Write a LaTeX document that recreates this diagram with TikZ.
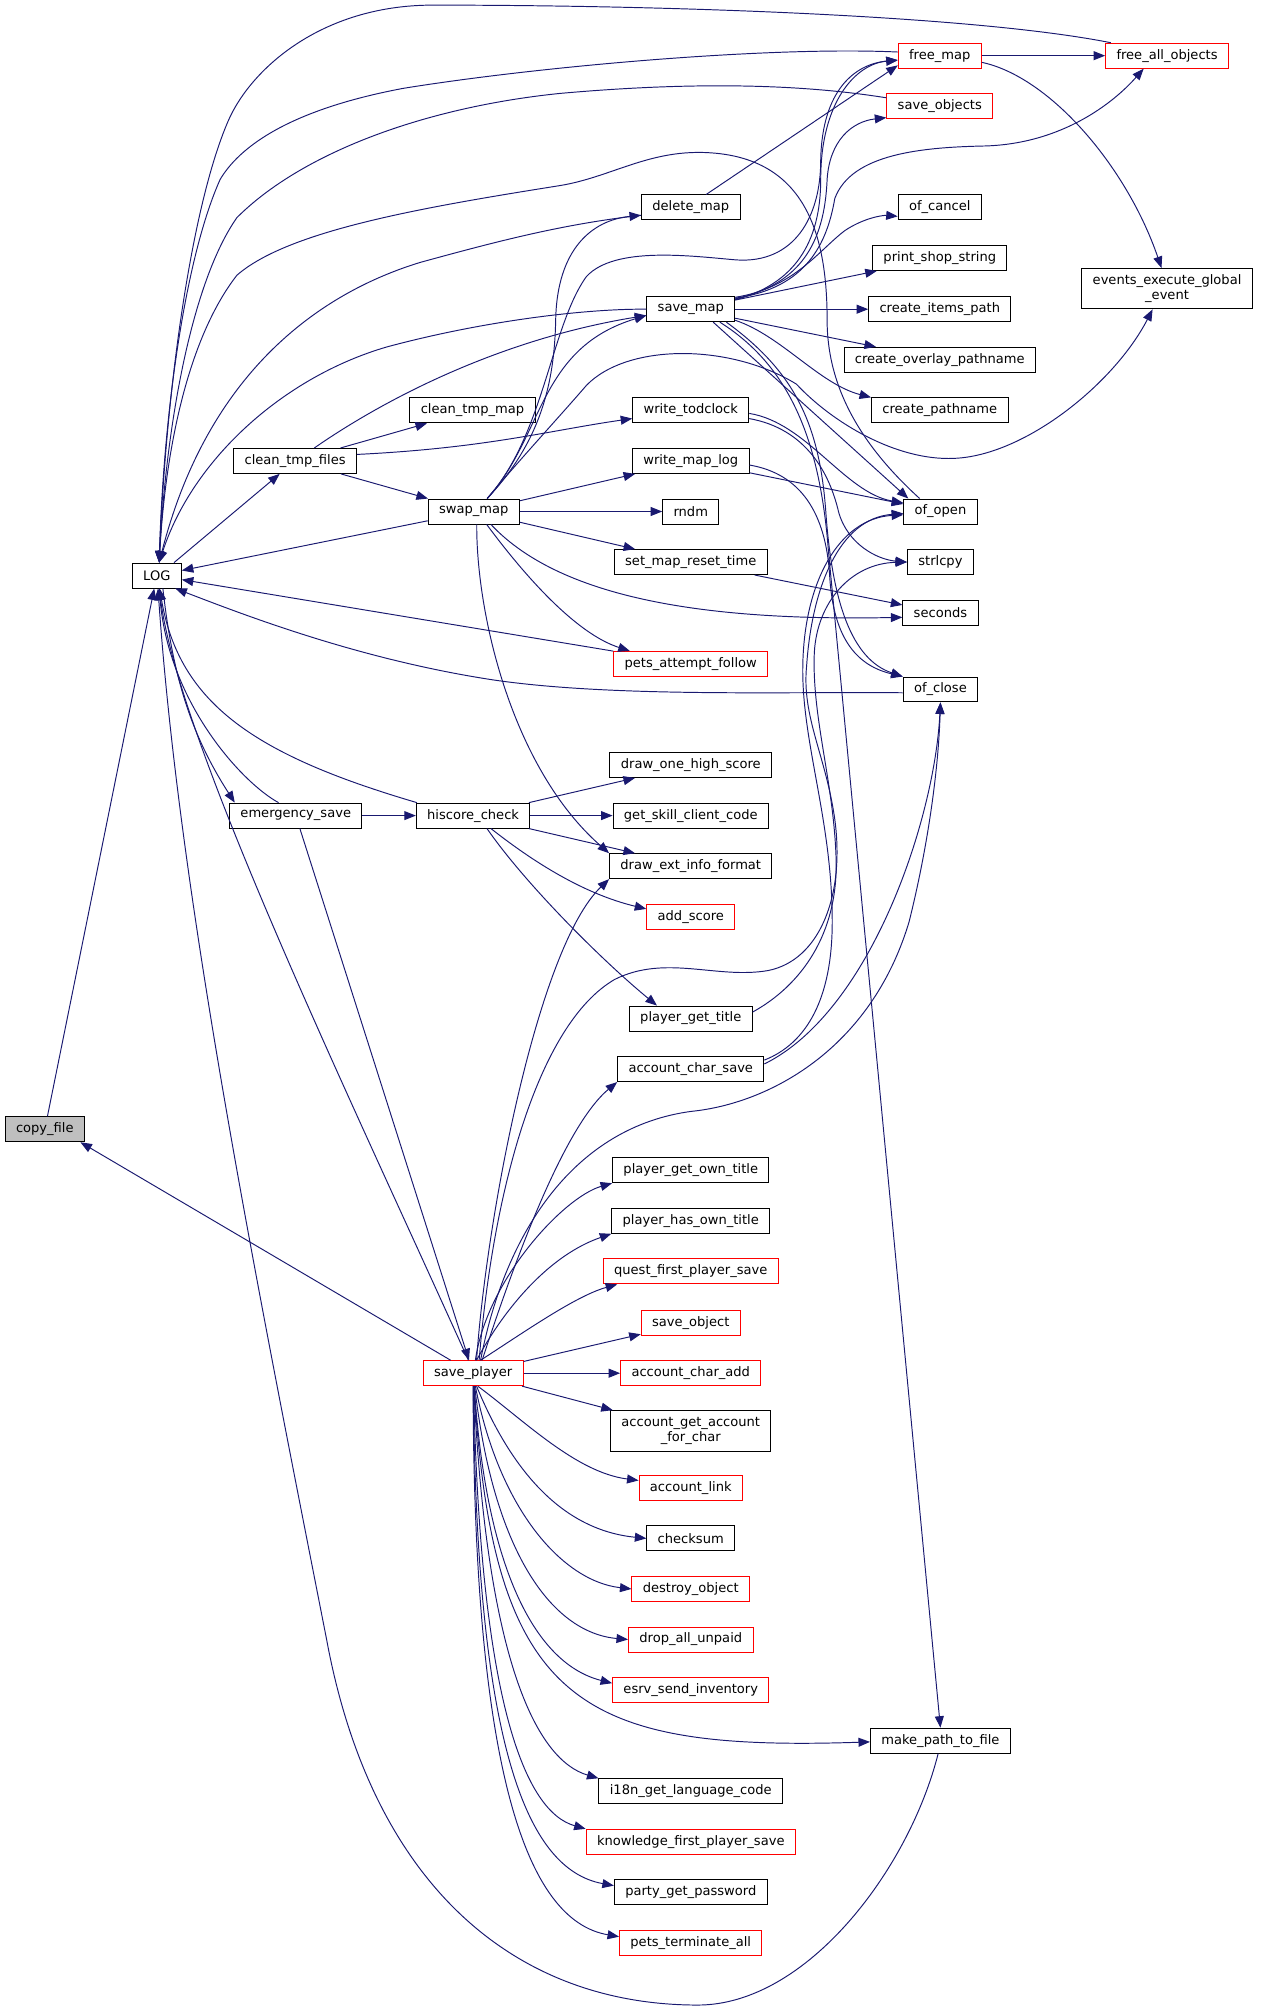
\documentclass[tikz,border=0pt]{standalone}
\usepackage{fontspec}
\setmainfont{DejaVu Sans}
\usetikzlibrary{arrows.meta}
\definecolor{gvblue}{HTML}{191970}
\definecolor{gvred}{HTML}{FF0000}
\definecolor{gvgray}{HTML}{BFBFBF}

\begin{document}
\begin{tikzpicture}[x=1pt, y=-1pt,
    every node/.style={rectangle, draw=black, line width=0.75pt, fill=white, minimum height=19.5pt, inner xsep=8.5pt, inner ysep=0pt, font=\fontsize{10.2}{11.5}\selectfont},
    hot/.style={draw=gvred},
    two/.style={minimum height=31.5pt, align=center},
    call/.style={draw=gvblue, line width=0.75pt, -{Triangle[length=9pt,width=7pt]}}]
                \fill[white] (0,0) rectangle (985,1573);
                \useasboundingbox (0,0) rectangle (985,1573);
                % left part
                \node[fill=gvgray] (copyfile) at (35,882) {copy\_file};
                \node (log) at (122.5,449.5) {LOG};
                \node (cleanfiles) at (230.5,360) {clean\_tmp\_files};
                \node (emergency) at (231,637) {emergency\_save};
                \node (cleanmap) at (369,320.5) {clean\_tmp\_map};
                \node (swapmap) at (370,399.5) {swap\_map};
                \node (hiscore) at (369.5,637) {hiscore\_check};
                \node[hot] (saveplayer) at (369.5,1072.5) {save\_player};
                % middle column
                \node (deletemap) at (539.5,162) {delete\_map};
                \node (savemap) at (539.5,241.5) {save\_map};
                \node (todclock) at (539.5,320.5) {write\_todclock};
                \node (maplog) at (539.5,360) {write\_map\_log};
                \node (rndm) at (539.5,399.5) {rndm};
                \node (resettime) at (539.5,439) {set\_map\_reset\_time};
                \node[hot] (petsfollow) at (539.5,518.5) {pets\_attempt\_follow};
                \node (onescore) at (539.5,597.5) {draw\_one\_high\_score};
                \node (skillcode) at (539.5,637) {get\_skill\_client\_code};
                \node (extinfo) at (539.5,676.5) {draw\_ext\_info\_format};
                \node[hot] (addscore) at (539.5,716) {add\_score};
                \node (gettitle) at (539.5,795.5) {player\_get\_title};
                \node (charsave) at (539.5,835) {account\_char\_save};
                \node (owntitle) at (539.5,914) {player\_get\_own\_title};
                \node (hastitle) at (539.5,953.5) {player\_has\_own\_title};
                \node[hot] (questsave) at (539.5,993) {quest\_first\_player\_save};
                \node[hot] (saveobject) at (539.5,1033) {save\_object};
                \node[hot] (charadd) at (539.5,1072.5) {account\_char\_add};
                \node[two] (accountfor) at (539.5,1117.5) {account\_get\_account\\\_for\_char};
                \node[hot] (accountlink) at (539.5,1162) {account\_link};
                \node (checksum) at (539.5,1201.5) {checksum};
                \node[hot] (destroy) at (539.5,1241) {destroy\_object};
                \node[hot] (dropunpaid) at (539.5,1280.5) {drop\_all\_unpaid};
                \node[hot] (inventory) at (539.5,1320) {esrv\_send\_inventory};
                \node (language) at (539.5,1399) {i18n\_get\_language\_code};
                \node[hot] (knowledge) at (539.5,1438.5) {knowledge\_first\_player\_save};
                \node (password) at (539.5,1478) {party\_get\_password};
                \node[hot] (petsterminate) at (539.5,1517.5) {pets\_terminate\_all};
                % right columns
                \node[hot] (freemap) at (734,43.5) {free\_map};
                \node[hot] (saveobjects) at (734,83) {save\_objects};
                \node (ofcancel) at (734,162) {of\_cancel};
                \node (shopstring) at (734,201.5) {print\_shop\_string};
                \node (itemspath) at (734,241.5) {create\_items\_path};
                \node (overlayname) at (734,281) {create\_overlay\_pathname};
                \node (pathname) at (734,320.5) {create\_pathname};
                \node (ofopen) at (734.5,399.5) {of\_open};
                \node (strlcpy) at (734.5,439) {strlcpy};
                \node (seconds) at (734.5,478.5) {seconds};
                \node (ofclose) at (734.5,538.5) {of\_close};
                \node (makepath) at (734.5,1359.5) {make\_path\_to\_file};
                \node[hot] (freeall) at (911.5,43.5) {free\_all\_objects};
                \node[two] (globalevent) at (911.5,225.5) {events\_execute\_global\\\_event};

                % copy_file and LOG
                \draw[call] (copyfile) -- (log);
                \draw[call] (log.37) -- (cleanfiles.-140);
                \draw[call] (log.-65) .. controls (135,530) and (150,575) .. (emergency.168);
                % clean_tmp_files
                \draw[call] (cleanfiles) -- (cleanmap);
                \draw[call] (cleanfiles) -- (swapmap);
                \draw[call] (cleanfiles.6) .. controls (380,350) and (430,336) .. (todclock.188);
                \draw[call] (cleanfiles.34) .. controls (300,312) and (390,265) .. (savemap.188);
                % swap_map
                \draw[call] (swapmap) -- (log);
                \draw[call] (swapmap.44) .. controls (422,345) and (433,300) .. (434,250) .. controls (435,195) and (462,172) .. (deletemap.189);
                \draw[call] (swapmap.44) .. controls (425,340) and (430,255) .. (458,216) .. controls (480,192) and (540,200) .. (575,203) .. controls (620,206) and (641,170) .. (641,125) .. controls (642,70) and (668,50) .. (freemap.-174);
                \draw[call] (swapmap.44) .. controls (425,340) and (420,272) .. (savemap.188);
                \draw[call] (swapmap.44) .. controls (405,360) and (440,322) .. (458,301) .. controls (490,268) and (570,268) .. (622,300) .. controls (650,330) and (700,360) .. (745,358) .. controls (800,356) and (870,300) .. (globalevent.-125);
                \draw[call] (swapmap) -- (maplog);
                \draw[call] (swapmap) -- (rndm);
                \draw[call] (swapmap) -- (resettime);
                \draw[call] (swapmap.-37) .. controls (440,470) and (560,485) .. (seconds.-173);
                \draw[call] (swapmap.-45) .. controls (410,450) and (450,495) .. (petsfollow.168);
                \draw[call] (swapmap.-77) .. controls (372,480) and (400,600) .. (extinfo.north west);
                % save_map
                \draw[call] (savemap.west) .. controls (460,241) and (380,250) .. (302,271) .. controls (220,295) and (150,360) .. (log.80);
                \draw[call] (savemap.12) .. controls (620,222) and (641,190) .. (641,140) .. controls (641,80) and (668,50) .. (freemap.-174);
                \draw[call] (savemap.13) .. controls (625,222) and (644,190) .. (646,140) .. controls (648,110) and (665,95) .. (saveobjects.-168);
                \draw[call] (savemap.14) .. controls (630,225) and (646,190) .. (652,155) .. controls (665,120) and (720,115) .. (770,114) .. controls (830,112) and (870,80) .. (freeall.-151);
                \draw[call] (savemap.15) .. controls (620,225) and (640,195) .. (660,180) .. controls (675,170) and (690,168) .. (ofcancel.-168);
                \draw[call] (savemap) -- (shopstring);
                \draw[call] (savemap) -- (itemspath);
                \draw[call] (savemap) -- (overlayname);
                \draw[call] (savemap.-14) .. controls (610,262) and (640,300) .. (pathname.north west);
                \draw[call] (savemap.-30) -- (ofopen.158);
                \draw[call] (savemap.-20) .. controls (620,290) and (640,330) .. (645,400) .. controls (650,470) and (665,515) .. (ofclose.north west);
                \draw[call] (savemap.-24) .. controls (615,285) and (640,340) .. (647,430) -- (makepath.north);
                % delete_map, free_map, free_all_objects, save_objects
                \draw[call] (deletemap.40) -- (freemap.-167);
                \draw[call] (deletemap.189) .. controls (440,175) and (390,188) .. (328,205) .. controls (240,232) and (160,300) .. (log.80);
                \draw[call] (freemap) -- (freeall);
                \draw[call] (freemap.175) .. controls (600,36) and (420,52) .. (315,69) .. controls (235,84) and (190,110) .. (172,140) .. controls (145,200) and (128,320) .. (log.80);
                \draw[call] (freemap.-9) .. controls (820,60) and (880,130) .. (globalevent.105);
                \draw[call] (freeall.167) .. controls (760,12) and (520,4) .. (338,4) .. controls (250,4) and (195,55) .. (178,95) .. controls (150,160) and (130,300) .. (log.80);
                \draw[call] (saveobjects.171) .. controls (640,68) and (560,62) .. (437,73) .. controls (330,84) and (235,120) .. (185,170) .. controls (150,220) and (130,330) .. (log.80);
                % write_todclock, write_map_log
                \draw[call] (todclock.-3) .. controls (630,330) and (660,385) .. (ofopen.167);
                \draw[call] (todclock.-8) .. controls (630,335) and (648,370) .. (655,400) .. controls (662,425) and (685,437) .. (strlcpy.west);
                \draw[call] (maplog) -- (ofopen);
                \draw[call] (maplog.-4) .. controls (625,370) and (645,400) .. (648,450) .. controls (651,500) and (670,520) .. (ofclose.north west);
                % of_open, of_close, pets_attempt_follow, set_map_reset_time
                \draw[call] (ofopen.148) .. controls (675,350) and (646,305) .. (646,250) .. controls (646,185) and (630,128) .. (562,120) .. controls (510,114) and (480,138) .. (437,145) .. controls (330,162) and (225,180) .. (185,215) .. controls (150,260) and (130,340) .. (log.80);
                \draw[call] (ofclose.185) .. controls (620,540) and (480,545) .. (385,531) .. controls (280,515) and (190,480) .. (log.-35);
                \draw[call] (petsfollow) -- (log);
                \draw[call] (resettime) -- (seconds);
                % emergency_save, hiscore_check
                \draw[call] (emergency.143) .. controls (190,612) and (132,550) .. (log.-80);
                \draw[call] (emergency) -- (hiscore);
                \draw[call] (emergency) -- (saveplayer);
                \draw[call] (hiscore.167) .. controls (200,590) and (140,550) .. (log.-78);
                \draw[call] (hiscore) -- (onescore);
                \draw[call] (hiscore) -- (skillcode);
                \draw[call] (hiscore) -- (extinfo);
                \draw[call] (hiscore.-36) .. controls (415,672) and (455,698) .. (addscore.170);
                \draw[call] (hiscore.-43) .. controls (410,690) and (470,750) .. (gettitle.159);
                \draw[call] (gettitle.6) .. controls (625,770) and (655,730) .. (653,670) .. controls (651,610) and (634,560) .. (636,510) .. controls (638,470) and (665,440) .. (strlcpy.west);
                % account_char_save
                \draw[call] (charsave.7) .. controls (630,815) and (650,780) .. (650,720) .. controls (650,640) and (626,580) .. (627,520) .. controls (628,455) and (655,405) .. (ofopen.-175);
                \draw[call] (charsave.4) .. controls (680,790) and (730,640) .. (ofclose.south);
                % save_player
                \draw[call] (saveplayer.150) -- (copyfile.-20);
                \draw[call] (saveplayer.110) .. controls (270,850) and (140,580) .. (log.-80);
                \draw[call] (saveplayer.75) .. controls (380,950) and (420,740) .. (extinfo.south west);
                \draw[call] (saveplayer.65) .. controls (385,930) and (420,800) .. (480,765) .. controls (520,745) and (560,765) .. (600,758) .. controls (640,750) and (660,700) .. (652,640) .. controls (645,590) and (626,560) .. (630,520) .. controls (634,460) and (655,405) .. (ofopen.-177);
                \draw[call] (saveplayer.60) .. controls (395,960) and (450,880) .. (540,868) .. controls (600,862) and (680,820) .. (710,720) .. controls (725,660) and (733,600) .. (ofclose.south);
                \draw[call] (saveplayer.55) .. controls (400,990) and (440,880) .. (charsave.south west);
                \draw[call] (saveplayer.80) .. controls (380,1000) and (440,935) .. (owntitle.south west);
                \draw[call] (saveplayer.75) .. controls (395,1020) and (430,980) .. (hastitle.south west);
                \draw[call] (saveplayer.60) .. controls (410,1040) and (450,1012) .. (questsave.-170);
                \draw[call] (saveplayer) -- (saveobject);
                \draw[call] (saveplayer) -- (charadd);
                \draw[call] (saveplayer) -- (accountfor);
                \draw[call] (saveplayer.-70) .. controls (410,1110) and (450,1150) .. (accountlink.172);
                \draw[call] (saveplayer.-75) .. controls (400,1150) and (440,1195) .. (checksum.west);
                \draw[call] (saveplayer.-80) .. controls (390,1180) and (440,1235) .. (destroy.west);
                \draw[call] (saveplayer.-83) .. controls (385,1210) and (430,1275) .. (dropunpaid.west);
                \draw[call] (saveplayer.-85) .. controls (380,1230) and (420,1300) .. (inventory.175);
                \draw[call] (saveplayer.-86) .. controls (385,1330) and (450,1368) .. (makepath.181);
                \draw[call] (saveplayer.-87) .. controls (380,1300) and (420,1375) .. (language.north west);
                \draw[call] (saveplayer.-88) .. controls (375,1330) and (410,1415) .. (knowledge.north west);
                \draw[call] (saveplayer.-89) .. controls (372,1360) and (410,1460) .. (password.175);
                \draw[call] (saveplayer.-90) .. controls (370,1380) and (410,1500) .. (petsterminate.175);
                % make_path_to_file
                \draw[call] (makepath.-100) .. controls (710,1460) and (630,1566) .. (545,1566) .. controls (400,1566) and (290,1470) .. (255,1280) .. controls (200,1000) and (140,700) .. (log.-85);
            \end{tikzpicture}
\end{document}
